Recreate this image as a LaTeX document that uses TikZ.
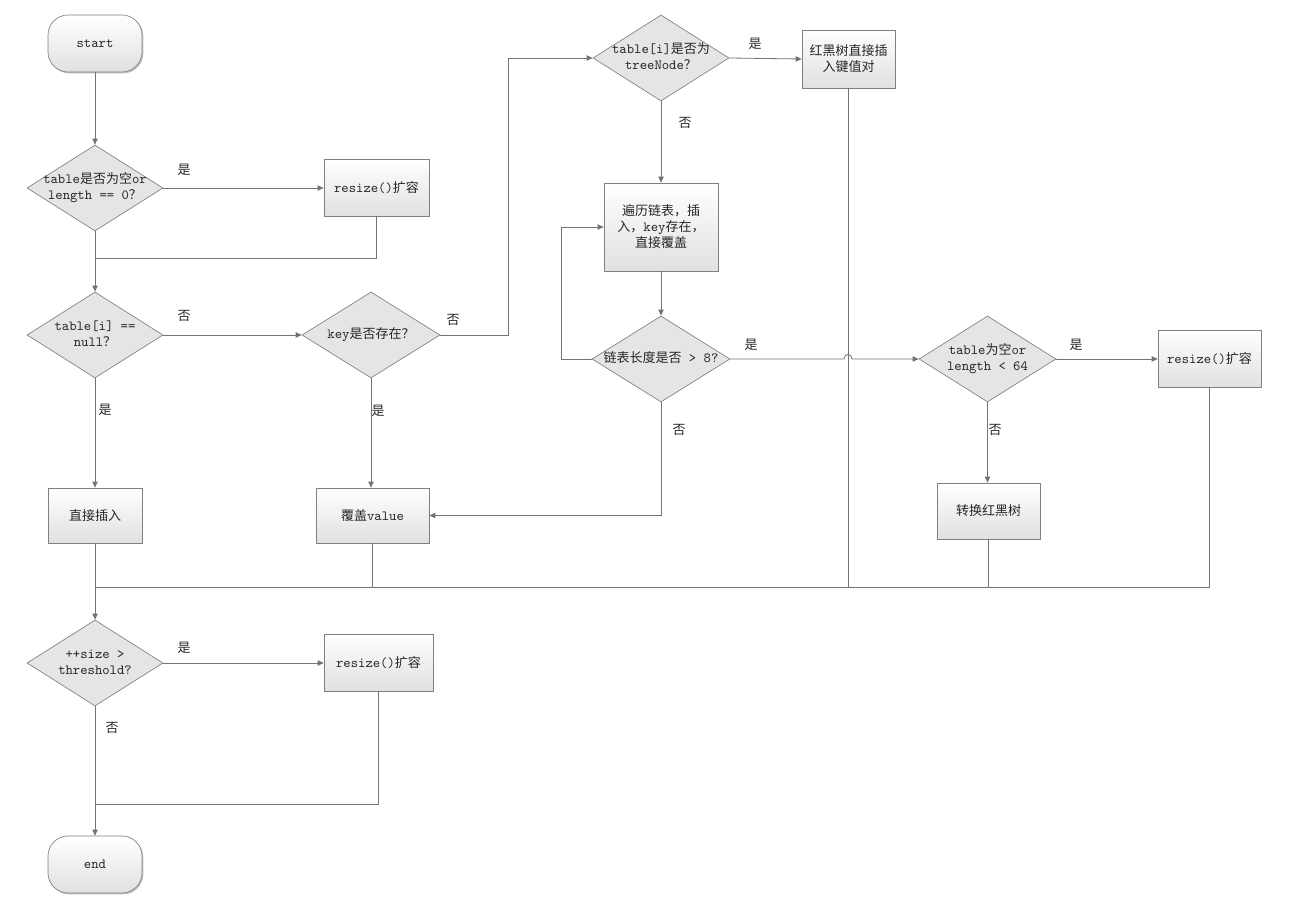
\documentclass[tikz,border=0pt]{standalone}
\usepackage{fontspec}
\newfontfamily\cjk{Noto Sans CJK SC}
\newcommand\z[1]{{\fontsize{9.75pt}{12pt}\selectfont\cjk #1}}
\newcommand\dtxt[1]{\makebox[0pt]{\begin{tabular}{@{}c@{}}#1\end{tabular}}}
\usetikzlibrary{shapes.geometric,arrows.meta,shadows}
\begin{document}
\begin{tikzpicture}[x=0.75pt,y=-0.75pt,
 every node/.style={font=\fontsize{10.5pt}{12pt}\selectfont\ttfamily, text=black!85},
 ln/.style={draw=black!55, line width=0.6pt},
 arr/.style={ln, -{Triangle[length=4.5pt,width=4pt]}},
 box/.style={draw=black!50, line width=0.5pt, top color=white, bottom color=black!12, inner sep=0pt, align=center,
   drop shadow={shadow xshift=1pt,shadow yshift=-1pt,opacity=0.25,fill=black}},
 term/.style={box, rounded corners=15pt, minimum width=70.5pt, minimum height=42.75pt},
 dia/.style={diamond, draw=black!50, line width=0.5pt, fill=black!10, inner sep=0pt, minimum width=102pt, minimum height=64.5pt},
 lab/.style={inner sep=0pt}
]
\useasboundingbox (0,0) rectangle (1301,905);

% nodes
\node[term] (start) at (95,43.5) {start};
\node[dia] (d1) at (95,188) {\dtxt{table\z{是否为空}or\\length == 0\z{？}}};
\node[box, minimum width=78.75pt, minimum height=42.75pt] (r1) at (376.5,187.5) {resize()\z{扩容}};
\node[dia] (d2) at (95,335) {\dtxt{table[i] ==\\null\z{？}}};
\node[dia, minimum width=103.5pt] (key) at (371,335) {\dtxt{key\z{是否存在？}}};
\node[dia] (tn) at (661,58) {\dtxt{table[i]\z{是否为}\\treeNode\z{？}}};
\node[box, minimum width=69.75pt, minimum height=43.5pt] (rb) at (848.5,59) {\z{红黑树直接插}\\\z{入键值对}};
\node[box, minimum width=85.5pt, minimum height=66pt] (bl) at (661,227) {\z{遍历链表，插}\\\z{入，}key\z{存在，}\\\z{直接覆盖}};
\node[dia, minimum width=103.5pt] (dl) at (661,359) {\dtxt{\z{链表长度是否} > 8?}};
\node[dia, minimum width=102.75pt] (dt) at (987.5,359) {\dtxt{table\z{为空}or\\length < 64}};
\node[box, minimum width=77.25pt, minimum height=42.75pt] (r2) at (1209.5,358.5) {resize()\z{扩容}};
\node[box, minimum width=77.25pt, minimum height=42pt] (cv) at (988.5,511) {\z{转换红黑树}};
\node[box, minimum width=84.75pt, minimum height=41.25pt] (ov) at (372.5,515.5) {\z{覆盖}value};
\node[box, minimum width=70.5pt, minimum height=41.25pt] (zj) at (95,515.5) {\z{直接插入}};
\node[dia] (d3) at (95,663) {\dtxt{++size >\\threshold?}};
\node[box, minimum width=81.75pt, minimum height=42.75pt] (r3) at (378.5,662.5) {resize()\z{扩容}};
\node[term] (end) at (95,864.5) {end};

% labels
\node[lab] (l1) at (184,170) {\z{是}};
\node[lab] (l2) at (184,316) {\z{否}};
\node[lab] (l3) at (453,320) {\z{否}};
\node[lab] (l4) at (105,410) {\z{是}};
\node[lab] (l5) at (378,411) {\z{是}};
\node[lab] (l6) at (755,44) {\z{是}};
\node[lab] (l7) at (685,123) {\z{否}};
\node[lab] (l8) at (751,345) {\z{是}};
\node[lab] (l9) at (679,430) {\z{否}};
\node[lab] (l10) at (1076,345) {\z{是}};
\node[lab] (l11) at (995,430) {\z{否}};
\node[lab] (l12) at (184,648) {\z{是}};
\node[lab] (l13) at (112,728) {\z{否}};

% coordinates
\coordinate (m1) at (95,258);
\coordinate (c1) at (508,58);
\coordinate (c2) at (561,359);
\coordinate (j1) at (844,359);
\coordinate (j2) at (852,359);
\coordinate (m2) at (95,587);
\coordinate (m4) at (95,804);

% connectors
\draw[arr] (start) -- (d1);
\draw[arr] (d1.east) -- (d1.east -| r1.west);
\draw[ln] (r1.south) |- (m1);
\draw[arr] (d1) -- (d2);
\draw[arr] (d2) -- (key);
\draw[arr] (d2) -- (zj);
\draw[arr] (key.south) -- (key.south |- ov.north);
\draw[arr] (key.east) -| (c1) -- (tn.west);
\draw[arr] (tn.east) -- (rb.west);
\draw[arr] (tn) -- (bl);
\draw[arr] (bl) -- (dl);
\draw[arr] (dl.west) -- (c2) |- (bl.west);
\draw[arr] (dl.east) -- (j1) .. controls (844,353) and (852,353) .. (j2) -- (dt.west);
\draw[arr] (dt.east) -- (dt.east -| r2.west);
\draw[arr] (dt.south) -- (dt.south |- cv.north);
\draw[arr] (dl.south) |- (ov.east);
\draw[ln] (zj.south) -- (m2);
\draw[ln] (ov.south) -- (ov.south |- m2);
\draw[ln] (rb.south) -- (rb.south |- m2);
\draw[ln] (cv.south) -- (cv.south |- m2);
\draw[ln] (r2.south) |- (m2);
\draw[arr] (m2) -- (d3);
\draw[arr] (d3) -- (r3.west |- d3);
\draw[arr] (d3) -- (end);
\draw[ln] (r3.south) |- (m4);
\end{tikzpicture}
\end{document}
